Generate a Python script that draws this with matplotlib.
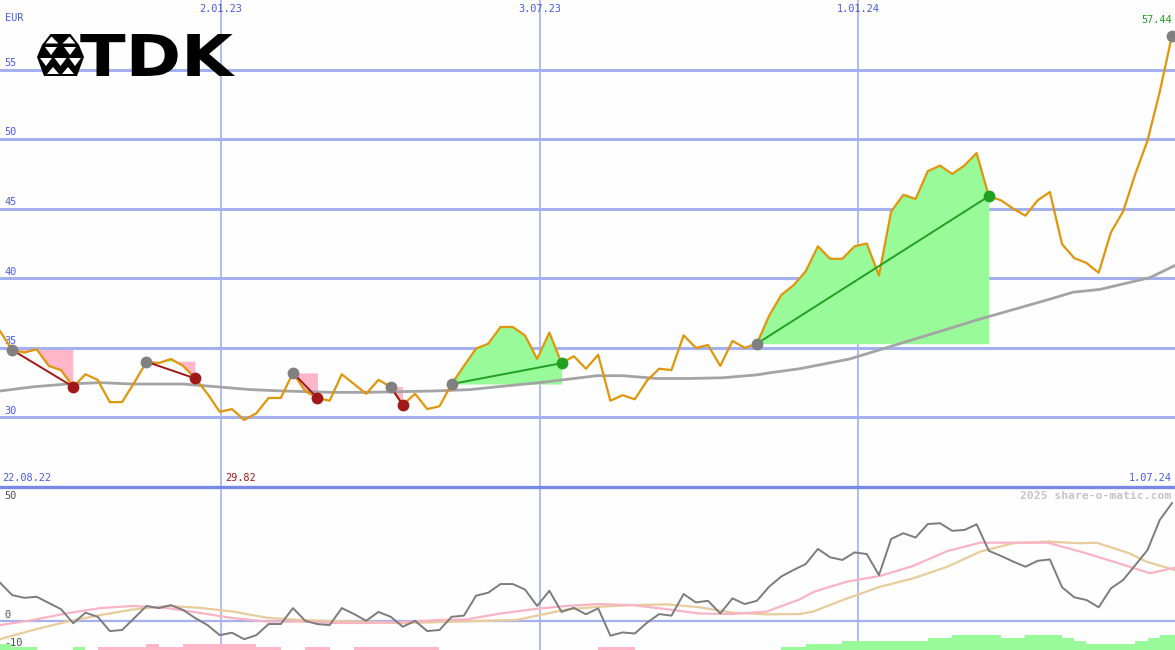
import numpy as np
import matplotlib
matplotlib.use("Agg")
import matplotlib.pyplot as plt
from matplotlib.textpath import TextPath
from matplotlib.font_manager import FontProperties
from matplotlib.patches import PathPatch, Polygon
from matplotlib.path import Path

# weekly closing prices (EUR), week 0 = end of Aug 2022
price = [36.2, 34.85, 34.66, 34.9, 33.7, 33.4, 32.2, 33.1, 32.7, 31.1,
         31.1, 32.5, 34.0, 33.9, 34.2, 33.7, 32.8, 31.7, 30.4, 30.6,
         29.82, 30.3, 31.4, 31.4, 33.2, 31.9, 31.4, 31.2, 33.1, 32.4,
         31.7, 32.7, 32.2, 30.9, 31.7, 30.6, 30.8, 32.4, 33.7, 34.95,
         35.3, 36.5, 36.5, 35.9, 34.2, 36.1, 33.9, 34.4, 33.5, 34.5,
         31.2, 31.6, 31.3, 32.65, 33.5, 33.4, 35.9, 35.0, 35.2, 33.7,
         35.5, 35.0, 35.3, 37.3, 38.8, 39.5, 40.5, 42.3, 41.4, 41.4,
         42.3, 42.5, 40.2, 44.8, 46.0, 45.7, 47.7, 48.1, 47.5, 48.1,
         49.0, 45.9, 45.6, 45.0, 44.5, 45.6, 46.2, 42.45, 41.45, 41.1,
         40.4, 43.3, 44.8, 47.5, 49.9, 53.4, 57.44]

# long moving average (grey line)
ma_x = [0, 2.7, 5.5, 8.2, 10.9, 15, 17.8, 20.5, 23.2, 27.3, 30, 35.5, 38.5,
        40.7, 44.2, 48.9, 51, 53.8, 56.5, 59.2, 62, 63, 65.5, 69.6, 73.7,
        77.8, 80, 86, 87.9, 90.1, 94.2, 96.2]
ma_y = [31.9, 32.2, 32.4, 32.5, 32.4, 32.4, 32.2, 32.0, 31.9, 31.8, 31.8,
        31.9, 32.0, 32.2, 32.5, 33.0, 33.0, 32.8, 32.8, 32.85, 33.06, 33.2,
        33.5, 34.2, 35.3, 36.4, 37.0, 38.5, 39.0, 39.2, 40.05, 40.9]

# trades: (start week, end week)
trades = [(1, 6), (12, 16), (24, 26), (32, 33), (37, 46), (62, 81)]

# lower panel: oscillator (grey), two signal lines, histogram
osc = [14.2, 9.6, 8.6, 9.0, 6.7, 4.4, -0.8, 3.1, 1.6, -3.7,
       -3.3, 1.1, 5.6, 4.8, 5.9, 4.1, 1.1, -1.5, -5.2, -4.3,
       -6.7, -5.2, -1.1, -1.1, 4.8, 0.1, -1.1, -1.5, 4.8, 2.6,
       0.1, 3.4, 1.6, -2.1, 0.1, -3.7, -3.3, 1.6, 2.0, 9.4,
       10.5, 13.7, 13.7, 11.7, 5.6, 11.2, 3.4, 4.9, 2.5, 4.7,
       -5.4, -4.2, -4.6, -0.6, 2.6, 2.0, 10.0, 6.9, 7.5, 2.8,
       8.4, 6.3, 7.5, 12.7, 16.5, 18.9, 21.1, 26.7, 23.6, 22.6,
       25.4, 24.8, 17.0, 30.4, 32.5, 30.9, 35.9, 36.2, 33.4, 33.7,
       35.8, 26.0, 24.1, 22.0, 20.1, 22.3, 22.8, 12.5, 8.8, 7.8,
       5.1, 12.1, 15.2, 20.7, 26.3, 37.4, 43.6]

pink_x = [0, 2.7, 5.5, 8.2, 10.9, 13.7, 16.4, 19.1, 21.9, 24.6, 27.3, 30.1,
          32.8, 36, 38.2, 41, 43.7, 46.4, 49.1, 51.8, 54.6, 57.3, 60, 62.8,
          65.5, 66.7, 69.4, 72.1, 74.8, 77.6, 80.3, 83, 85.8, 88.5, 91.2,
          94.2, 96.2]
pink_y = [-1.5, 0.4, 2.9, 4.8, 5.6, 4.8, 3.0, 1.1, -0.2, -0.2, -0.7, -0.7,
          -0.4, 0.4, 0.6, 2.8, 4.4, 5.6, 6.3, 5.9, 4.4, 2.8, 2.6, 3.5,
          8.0, 10.9, 14.6, 16.7, 20.4, 25.9, 29.0, 29.0, 29.0, 25.7, 22.0,
          17.7, 19.7]

tan_x = [0, 2.7, 5.5, 8.2, 10.9, 13.7, 16.4, 19.1, 21.9, 24.6, 27.3, 30.1,
         32.8, 38.2, 42.3, 44.2, 46.4, 49.1, 51.8, 54.6, 57.3, 60, 62.8,
         65.5, 66.6, 69.4, 72.1, 74.8, 77.6, 80.3, 83, 85.8, 88.5, 89.8,
         92.5, 93.9, 96.2]
tan_y = [-6.7, -3.3, -0.2, 2.2, 4.3, 5.6, 4.9, 3.5, 1.2, 0.4, 0.0, -0.2,
         -0.8, -0.1, 0.4, 2.2, 4.3, 5.3, 5.9, 6.2, 5.1, 3.1, 2.5, 2.6,
         3.5, 8.4, 12.7, 15.8, 20.1, 25.7, 28.8, 29.4, 28.8, 29.0, 25.1,
         22.0, 18.9]

hist = ([2.2, 1.2, 1.2, 0, 0, 0, 1.2, 0] + [-1.2] * 4 + [-2.2] + [-1.2] * 2
        + [-2.2] * 6 + [-1.2] * 2 + [0, 0] + [-1.2] * 2 + [0, 0] + [-1.2] * 7
        + [0] * 13 + [-1.2] * 3 + [0] * 12 + [1.2] * 2 + [2.2] * 3 + [3.3] * 7
        + [4.3] * 2 + [5.6] * 4 + [4.3] * 2 + [5.6] * 3 + [4.3, 3.3]
        + [2.2] * 4 + [3.3, 4.3, 5.6, 5.6])

date_labels = ["2.01.23", "3.07.23", "1.01.24"]
date_pos = [18.1, 44.2, 70.3]
price_ticks = [30, 35, 40, 45, 50, 55]

W, H = 1175, 650
BG = "#fdfefd"
GRID = "#a4b0f0"
BLUE_TXT = "#4a5ae8"
ORANGE = "#e0960a"
LOSS = "#a01818"
WIN = "#22a022"
PINK_FILL = "#ffb6c8"
GREEN_FILL = "#98fa98"
mono = "DejaVu Sans Mono"

fig = plt.figure(figsize=(W / 100, H / 100), dpi=100, facecolor=BG)
ax1 = fig.add_axes([0, 163 / H, 1, 487 / H])
ax2 = fig.add_axes([0, 0, 1, 163 / H])
xmax = 96.25
x = np.arange(len(price))
p = np.array(price)

for ax in (ax1, ax2):
    ax.set_facecolor(BG)
    ax.set_xlim(0, xmax)
    ax.set_xticks([])
    ax.set_yticks([])
    for s in ax.spines.values():
        s.set_visible(False)
    for d in date_pos:
        ax.axvline(d, color=GRID, lw=1.2, zorder=1)

# ---- upper panel
ax1.set_ylim(25, 60)
for t in price_ticks:
    ax1.axhline(t, color=GRID, lw=2.2, zorder=1)
    ax1.text(0.004, t + 0.12, str(t), transform=ax1.get_yaxis_transform(),
             ha="left", va="bottom", fontsize=7.4, family=mono, color=BLUE_TXT)
ax1.text(0.004, 1 - 18 / 487, "EUR", transform=ax1.transAxes, ha="left",
         va="center", fontsize=7.4, family=mono, color=BLUE_TXT)
for lab, d in zip(date_labels, date_pos):
    ax1.text(d, 1 - 9 / 487, lab, transform=ax1.get_xaxis_transform(),
             ha="center", va="center", fontsize=7.4, family=mono, color=BLUE_TXT)
ax1.text(0.002, 9 / 487, "22.08.22", transform=ax1.transAxes, ha="left",
         va="center", fontsize=7.4, family=mono, color=BLUE_TXT)
ax1.text(0.997, 9 / 487, "1.07.24", transform=ax1.transAxes, ha="right",
         va="center", fontsize=7.4, family=mono, color=BLUE_TXT)

# trade areas
for a, b in trades:
    xs = x[a:b + 1]
    ys = p[a:b + 1]
    lvl = p[a]
    ax1.fill_between(xs, lvl, ys, where=ys >= lvl, interpolate=True,
                     color=GREEN_FILL, lw=0, zorder=2)
    ax1.fill_between(xs, lvl, ys, where=ys < lvl, interpolate=True,
                     color=PINK_FILL, lw=0, zorder=2)

ax1.plot(ma_x, ma_y, color="#a4a4a4", lw=2, zorder=3)
ax1.plot(x, p, color=ORANGE, lw=1.6, zorder=4)

for a, b in trades:
    c = WIN if p[b] > p[a] else LOSS
    ax1.plot([a, b], [p[a], p[b]], color=c, lw=1.4, zorder=5)
    ax1.plot(a, p[a], "o", ms=8.5, color="#808080", mec="none", zorder=6)
    ax1.plot(b, p[b], "o", ms=8.5, color=c, mec="none", zorder=6)
ax1.plot(x[-1], p[-1], "o", ms=8.5, color="#808080", mec="none", zorder=6)

imin = int(np.argmin(p))
ax1.text(imin - 0.3, 9 / 487, f"{p[imin]:.2f}", transform=ax1.get_xaxis_transform(),
         ha="center", va="center", fontsize=7.4, family=mono, color=LOSS)
ax1.text(0.997, 1 - 20 / 487, f"{p[-1]:.2f}", transform=ax1.transAxes,
         ha="right", va="center", fontsize=7.4, family=mono, color=WIN)

# ---- lower panel
ax2.set_ylim(-10.7, 49.6)
ax2.spines["top"].set_visible(True)
ax2.spines["top"].set_color("#7888e8")
ax2.spines["top"].set_linewidth(2.4)
ax2.axhline(0, color=GRID, lw=1.6, zorder=1)
hx = np.arange(len(hist))
hv = np.array(hist)
ax2.bar(hx, np.abs(hv), bottom=-10.7, width=1.0, align="edge",
        color=np.where(hv > 0, GREEN_FILL, PINK_FILL), lw=0, zorder=2)
ax2.plot(tan_x, tan_y, color="#e8cc9c", lw=1.6, zorder=3)
ax2.plot(pink_x, pink_y, color="#f8b4c4", lw=1.6, zorder=3)
ax2.plot(np.arange(len(osc)), osc, color="#7c7c7c", lw=1.4, zorder=4)
for val, yy in [("50", 0.945), ("0", 0.215), ("-10", 0.043)]:
    ax2.text(0.004, yy, val, transform=ax2.transAxes, ha="left", va="center",
             fontsize=7.4, family=mono, color="#505050")
ax2.text(0.997, 0.945, "2025 share-o-matic.com", transform=ax2.transAxes,
         ha="right", va="center", fontsize=8.2, family=mono,
         fontweight="bold", color="#c4c4c4")

# ---- TDK logo (pixel coordinates, y downwards)
lg = fig.add_axes([0, 1 - 90 / H, 250 / W, 90 / H])
lg.set_xlim(0, 250)
lg.set_ylim(90, 0)
lg.set_axis_off()
tp = TextPath((0, 0), "TDK", size=100, prop=FontProperties(family="DejaVu Sans", weight="bold"))
v = tp.vertices.copy()
x0, x1 = v[:, 0].min(), v[:, 0].max()
y0, y1 = v[:, 1].min(), v[:, 1].max()
nv = np.column_stack([80 + (v[:, 0] - x0) / (x1 - x0) * 155,
                      76 - (v[:, 1] - y0) / (y1 - y0) * 42])
lg.add_patch(PathPatch(Path(nv, tp.codes), color="black", lw=0))

outline = [(50.5, 34), (70.5, 34), (79, 45), (84, 57), (77, 76), (44, 76), (37, 57), (42, 45)]
lg.add_patch(Polygon(outline, closed=True, color="black", lw=0))
whites = [
    [(51.5, 36.5), (58.5, 43.5), (45.5, 43.5)],
    [(69.5, 36.5), (62.5, 43.5), (75.5, 43.5)],
    [(45, 47), (57, 47), (51, 55)],
    [(64, 47), (76, 47), (70, 55)],
    [(40, 58), (52, 58), (46, 66)],
    [(54.5, 58), (66.5, 58), (60.5, 66)],
    [(69, 58), (81, 58), (75, 66)],
    [(47, 74), (53, 67), (59, 74)],
    [(62, 74), (68, 67), (74, 74)],
]
for tri in whites:
    lg.add_patch(Polygon(tri, closed=True, color="white", lw=0))

fig.savefig("out.png", dpi=100, facecolor=BG)
